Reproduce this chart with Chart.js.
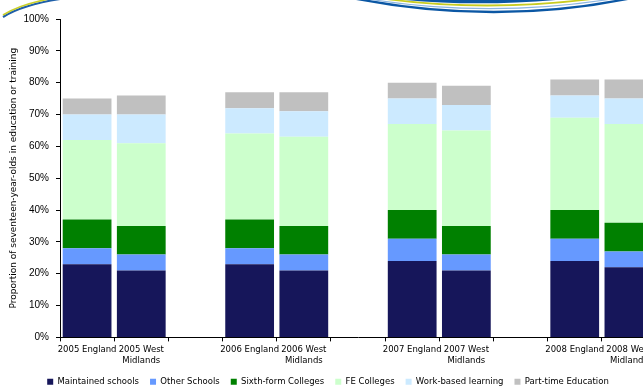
<!DOCTYPE html>
<html>
<head>
<meta charset="utf-8">
<script src="https://cdn.jsdelivr.net/npm/chart.js@4"></script>
<style>
  html, body { margin: 0; padding: 0; background: #fff; overflow: hidden; }
  .wrap { width: 643px; height: 388px; overflow: hidden; position: relative; }
  .box { width: 660px; height: 396px; }
</style>
</head>
<body>
<div class="wrap"><div class="box"><canvas id="chart" width="660" height="396"></canvas></div></div>
<script>
const CATEGORIES = ['2005 England', ['2005 West', 'Midlands'], '', '2006 England', ['2006 West', 'Midlands'], '',
                    '2007 England', ['2007 West', 'Midlands'], '', '2008 England', ['2008 West', 'Midlands']];

const MAINTAINED = [23, 21, null, 23, 21, null, 24, 21, null, 24, 22];
const OTHER      = [5, 5, null, 5, 5, null, 7, 5, null, 7, 5];
const SIXTH_FORM = [9, 9, null, 9, 9, null, 9, 9, null, 9, 9];
const FE         = [25, 26, null, 27, 28, null, 27, 30, null, 29, 31];
const WORK_BASED = [8, 9, null, 8, 8, null, 8, 8, null, 7, 8];
const PART_TIME  = [5, 6, null, 5, 6, null, 5, 6, null, 5, 6];

const Y_TICKS = [0, 10, 20, 30, 40, 50, 60, 70, 80, 90, 100];

const TAHOMA = "'DejaVu Sans', Verdana, sans-serif";
const ARIAL  = "'Liberation Sans', Arial, sans-serif";

// decorative header swoosh
const swoosh = {
  id: 'swoosh',
  afterDraw(chart) {
    const c = chart.ctx;
    c.save();
    const arc = (x0, y0, cx, cy, x1, y1, col, w) => {
      c.beginPath();
      c.moveTo(x0, y0);
      c.quadraticCurveTo(cx, cy, x1, y1);
      c.strokeStyle = col;
      c.lineWidth = w;
      c.stroke();
    };
    // left corner
    arc(3, 17, 22, 5, 60, -1, '#1f5fa8', 2.2);
    arc(3, 15, 22, 3, 60, -3, '#c9cf2a', 1.6);
    // right arc
    arc(352, -2, 505, 28, 650, -6, '#0b57a4', 2.4);
    arc(362, -2, 505, 22, 650, -8, '#8db6e0', 1.2);
    arc(372, -3, 505, 17, 650, -10, '#c8cc20', 1.8);
    arc(385, -4, 505, 11, 650, -14, '#0b57a4', 3.5);
    c.restore();
  }
};

new Chart(document.getElementById('chart').getContext('2d'), {
  type: 'bar',
  data: {
    labels: CATEGORIES,
    datasets: [
      { label: 'Maintained schools',    data: MAINTAINED, backgroundColor: '#16165a' },
      { label: 'Other Schools',         data: OTHER,      backgroundColor: '#6699ff' },
      { label: 'Sixth-form Colleges',   data: SIXTH_FORM, backgroundColor: '#008000' },
      { label: 'FE Colleges',           data: FE,         backgroundColor: '#ccffcc' },
      { label: 'Work-based learning',   data: WORK_BASED, backgroundColor: '#cceaff' },
      { label: 'Part-time Education',   data: PART_TIME,  backgroundColor: '#c0c0c0' }
    ]
  },
  options: {
    responsive: false,
    animation: false,
    barPercentage: 0.9,
    categoryPercentage: 1.0,
    layout: { padding: { top: 19, left: 0, right: 4, bottom: 0 } },
    plugins: {
      tooltip: { enabled: false },
      legend: {
        position: 'bottom',
        labels: {
          boxWidth: 6, boxHeight: 6, padding: 11,
          color: '#000',
          font: { family: TAHOMA, size: 8.5 }
        }
      }
    },
    scales: {
      x: {
        stacked: true,
        afterFit: s => { s.height -= 3; },
        grid: { offset: true, drawOnChartArea: false, tickLength: 4, color: '#000' },
        border: { color: '#000' },
        ticks: { color: '#000', font: { family: TAHOMA, size: 8.5, lineHeight: 1.3 }, maxRotation: 0, autoSkip: false, padding: 3 }
      },
      y: {
        stacked: true,
        min: 0, max: 100,
        afterBuildTicks: s => { s.ticks = Y_TICKS.map(v => ({ value: v })); },
        afterFit: s => { s.width = 60; },
        grid: { drawOnChartArea: false, tickLength: 4, color: '#000' },
        border: { color: '#000' },
        ticks: { color: '#000', font: { family: ARIAL, size: 10 }, padding: 7, callback: v => v + '%' },
        title: {
          display: true,
          text: 'Proportion of seventeen-year-olds in education or training',
          color: '#000',
          font: { family: TAHOMA, size: 9 },
          padding: { top: 8, bottom: 0 }
        }
      }
    }
  },
  plugins: [swoosh]
});
</script>
</body>
</html>
